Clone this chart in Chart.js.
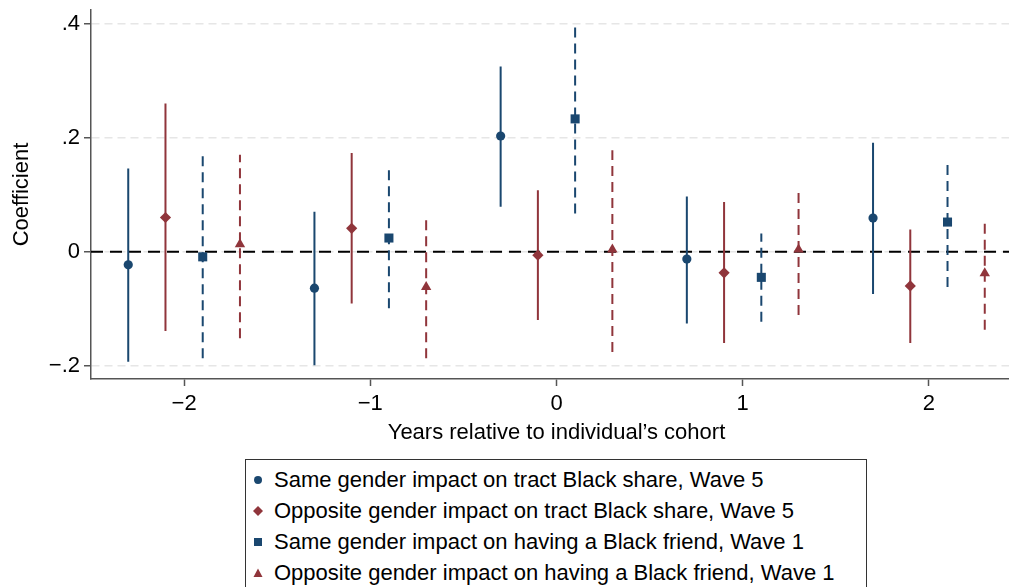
<!DOCTYPE html>
<html>
<head>
<meta charset="utf-8">
<script src="https://cdn.jsdelivr.net/npm/chart.js@4/dist/chart.umd.min.js"></script>
<style>
  html, body { margin: 0; padding: 0; background: #fff; overflow: hidden; width: 1009px; height: 587px; }
  #wrap { position: absolute; left: 0; top: 0; width: 1030px; height: 458px; }
  #legend {
    position: absolute; left: 245px; top: 459px; width: 622px; height: 160px;
    box-sizing: border-box; border: 1px solid #333; padding: 4px 0 0 6px;
    font-family: 'Liberation Sans', Arial, sans-serif; font-size: 22px; color: #000;
  }
  .leg-row { height: 31px; line-height: 31px; white-space: nowrap; display: flex; align-items: center; }
  .leg-row svg { width: 12px; height: 12px; margin-right: 10px; flex: none; }
</style>
</head>
<body>
<div id="wrap"><canvas id="chart"></canvas></div>
<div id="legend"></div>
<script>
// Event-study coefficients with 95% CIs, by year relative to the cohort
const years = [-2, -1, 0, 1, 2];
const xTickLabels = ['\u22122', '\u22121', '0', '1', '2'];
const yTicks = [-0.2, 0, 0.2, 0.4];
const yTickLabels = ['\u2212.2', '0', '.2', '.4'];

const seriesNames = [
  'Same gender impact on tract Black share, Wave 5',
  'Opposite gender impact on tract Black share, Wave 5',
  'Same gender impact on having a Black friend, Wave 1',
  'Opposite gender impact on having a Black friend, Wave 1',
];
// dodge of each series around the year
const dodge = [-0.3, -0.1, 0.1, 0.3];

const sameTractEst = [-0.023, -0.064, 0.203, -0.013, 0.059];
const sameTractLo  = [-0.193, -0.199, 0.079, -0.126, -0.074];
const sameTractHi  = [ 0.146,  0.070, 0.325,  0.097,  0.191];

const oppTractEst = [ 0.060,  0.041, -0.006, -0.037, -0.060];
const oppTractLo  = [-0.139, -0.091, -0.120, -0.160, -0.160];
const oppTractHi  = [ 0.260,  0.173,  0.108,  0.087,  0.039];

const sameFriendEst = [-0.009,  0.024, 0.233, -0.045,  0.052];
const sameFriendLo  = [-0.187, -0.099, 0.067, -0.123, -0.062];
const sameFriendHi  = [ 0.170,  0.146, 0.395,  0.032,  0.160];

const oppFriendEst = [ 0.013, -0.062,  0.004,  0.004, -0.038];
const oppFriendLo  = [-0.152, -0.187, -0.176, -0.111, -0.137];
const oppFriendHi  = [ 0.170,  0.057,  0.178,  0.110,  0.052];

const NAVY = '#1a476f';
const MAROON = '#90353b';
const FONT = "'Liberation Sans', Arial, sans-serif";

const styles = [
  { color: NAVY,   marker: 'circle',   radius: 4.6, dash: [] },
  { color: MAROON, marker: 'rectRot',  radius: 5.6, dash: [] },
  { color: NAVY,   marker: 'rect',     radius: 6.4, dash: [10, 6] },
  { color: MAROON, marker: 'triangle', radius: 6.0, dash: [10, 6] },
];
const est = [sameTractEst, oppTractEst, sameFriendEst, oppFriendEst];
const lo  = [sameTractLo, oppTractLo, sameFriendLo, oppFriendLo];
const hi  = [sameTractHi, oppTractHi, sameFriendHi, oppFriendHi];

// markers first so they sit on top of the bars
const pointSets = est.map((e, s) => ({
  label: seriesNames[s],
  data: years.map((yr, i) => ({ x: yr + dodge[s], y: e[i] })),
  showLine: false,
  pointStyle: styles[s].marker,
  pointRadius: styles[s].radius,
  pointBackgroundColor: styles[s].color,
  pointBorderWidth: 0,
}));

// CI bars: two points per year, null to break the line
const ciSets = lo.map((l, s) => ({
  label: seriesNames[s] + ' CI',
  data: years.flatMap((yr, i) => [
    { x: yr + dodge[s], y: l[i] },
    { x: yr + dodge[s], y: hi[s][i] },
    { x: yr + dodge[s], y: null },
  ]),
  borderColor: styles[s].color,
  borderWidth: 2,
  borderDash: styles[s].dash,
  borderCapStyle: 'butt',
  pointRadius: 0,
  spanGaps: false,
}));

const zeroLine = {
  label: 'zero',
  data: [{ x: -2.5, y: 0 }, { x: 2.5, y: 0 }],
  borderColor: '#000',
  borderWidth: 2,
  borderDash: [12, 7],
  pointRadius: 0,
};

new Chart(document.getElementById('chart'), {
  type: 'line',
  data: { datasets: [...pointSets, ...ciSets, zeroLine] },
  options: {
    responsive: true, maintainAspectRatio: false,
    animation: false,
    layout: { padding: { top: 10, right: 8, left: 0, bottom: 0 } },
    plugins: { legend: { display: false }, tooltip: { enabled: false } },
    scales: {
      x: {
        type: 'linear', min: -2.5, max: 2.5,
        afterBuildTicks: sc => { sc.ticks = years.map(v => ({ value: v })); },
        afterFit: sc => { sc.height = 79; sc.paddingLeft = 0; sc.paddingRight = 0; },
        ticks: {
          color: '#000', padding: 5,
          font: { family: FONT, size: 22 },
          callback: (v) => xTickLabels[years.indexOf(v)],
        },
        grid: { drawOnChartArea: false, drawTicks: true, tickLength: 7, tickColor: '#555', tickWidth: 1.5 },
        border: { color: '#555', width: 1.5 },
        title: {
          display: true, text: 'Years relative to individual\u2019s cohort', color: '#000',
          font: { family: FONT, size: 22 }, padding: { top: 0, bottom: 12 },
        },
      },
      y: {
        type: 'linear', min: -0.2233, max: 0.424,
        afterBuildTicks: sc => { sc.ticks = yTicks.map(v => ({ value: v })); },
        afterFit: sc => { sc.width = 91; sc.paddingTop = 0; sc.paddingBottom = 0; },
        ticks: {
          color: '#000', padding: 4,
          font: { family: FONT, size: 22 },
          callback: (v) => yTickLabels[yTicks.indexOf(v)],
        },
        grid: { color: '#e6e6e6', lineWidth: 1.5, tickLength: 7, tickColor: '#555', tickWidth: 1.5 },
        border: { color: '#555', width: 1.5, dash: [8, 5] },
        title: {
          display: true, text: 'Coefficient', color: '#000',
          font: { family: FONT, size: 22 }, padding: { top: 9, bottom: 0 },
        },
      },
    },
  },
});

// legend box under the plot
const markerSvg = {
  circle:   c => '<circle cx="6" cy="6" r="4" fill="' + c + '"/>',
  rectRot:  c => '<polygon points="6,1 11,6 6,11 1,6" fill="' + c + '"/>',
  rect:     c => '<rect x="2" y="2" width="8" height="8" fill="' + c + '"/>',
  triangle: c => '<polygon points="6,1.5 10.5,10 1.5,10" fill="' + c + '"/>',
};
document.getElementById('legend').innerHTML = seriesNames.map((name, s) =>
  '<div class="leg-row"><svg viewBox="0 0 12 12">' + markerSvg[styles[s].marker](styles[s].color) +
  '</svg><span>' + name + '</span></div>'
).join('');
</script>
</body>
</html>
